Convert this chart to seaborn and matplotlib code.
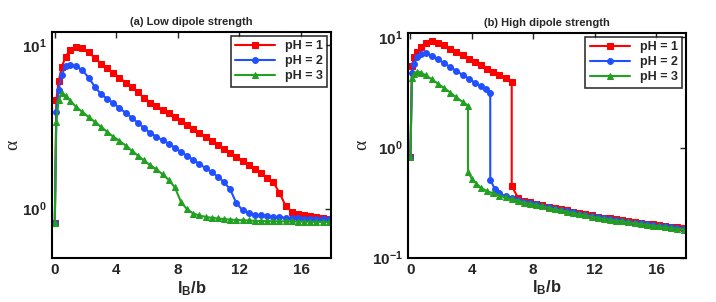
import matplotlib
matplotlib.use("Agg")
import matplotlib.pyplot as plt
import matplotlib.ticker as mticker
import seaborn as sns
import pandas as pd

# x grid used by the low dipole panel
GX = [0, 0.1, 0.25, 0.45, 0.7, 1.0, 1.4, 1.8, 2.2, 2.6, 3.0, 3.4, 3.8, 4.2, 4.6, 5.0,
      5.4, 5.8, 6.2, 6.6, 7.0, 7.4, 7.8, 8.2, 8.6, 9.0, 9.4, 9.8, 10.2, 10.6, 11.0, 11.4,
      11.8, 12.2, 12.6, 13.0, 13.4, 13.8, 14.2, 14.6, 15.0, 15.4, 15.8, 16.2, 16.6, 17.0,
      17.4, 17.8]

low_ph1 = [0.82, 4.6, 6.0, 7.3, 8.5, 9.3, 9.77, 9.55, 9.02, 8.32, 7.67, 7.19, 6.76, 6.31,
           5.89, 5.50, 5.13, 4.76, 4.45, 4.22, 4.01, 3.84, 3.63, 3.43, 3.24, 3.07, 2.90,
           2.75, 2.60, 2.45, 2.32, 2.19, 2.07, 1.96, 1.85, 1.75, 1.64, 1.54, 1.45, 1.25,
           1.04, 0.96, 0.93, 0.915, 0.90, 0.89, 0.875, 0.87]
low_ph2 = [0.82, 3.9, 5.3, 6.6, 7.4, 7.55, 7.41, 7.0, 6.31, 5.56, 5.01, 4.70, 4.42, 4.12,
           3.85, 3.59, 3.35, 3.11, 2.90, 2.75, 2.62, 2.50, 2.36, 2.22, 2.10, 1.99, 1.87,
           1.77, 1.67, 1.57, 1.45, 1.31, 1.08, 0.98, 0.945, 0.92, 0.91, 0.90, 0.893, 0.887,
           0.88, 0.877, 0.873, 0.87, 0.867, 0.865, 0.862, 0.86]
low_ph3 = [0.82, 3.4, 4.6, 5.1, 4.9, 4.57, 4.17, 3.89, 3.63, 3.39, 3.16, 2.95, 2.75, 2.60,
           2.43, 2.26, 2.11, 1.97, 1.84, 1.74, 1.62, 1.50, 1.35, 1.10, 0.99, 0.933, 0.908,
           0.891, 0.879, 0.871, 0.863, 0.857, 0.853, 0.849, 0.847, 0.843, 0.841, 0.839,
           0.837, 0.837, 0.835, 0.835, 0.833, 0.833, 0.831, 0.831, 0.830, 0.829]

# high dipole panel: each curve has its own x values (vertical jump = repeated x)
hx_ph1 = [0, 0.1, 0.25, 0.45, 0.7, 1.0, 1.4, 1.8, 2.2, 2.6, 3.0, 3.4, 3.8, 4.2, 4.6, 5.0,
          5.4, 5.8, 6.2, 6.6, 6.6, 7.0, 7.4, 7.8, 8.2, 8.6, 9.0, 9.4, 9.8, 10.2, 10.6, 11.0,
          11.4, 11.8, 12.2, 12.6, 13.0, 13.4, 13.8, 14.2, 14.6, 15.0, 15.4, 15.8, 16.2,
          16.6, 17.0, 17.4, 17.8]
high_ph1 = [0.82, 5.5, 6.6, 7.4, 8.2, 8.9, 9.2, 8.9, 8.5, 7.8, 7.36, 6.87, 6.41, 5.98, 5.58,
            5.21, 4.86, 4.54, 4.24, 3.98, 0.45, 0.35, 0.33, 0.318, 0.308, 0.299, 0.290,
            0.282, 0.275, 0.268, 0.260, 0.254, 0.248, 0.242, 0.236, 0.231, 0.227, 0.222,
            0.218, 0.214, 0.210, 0.207, 0.204, 0.200, 0.197, 0.194, 0.191, 0.188, 0.185]
hx_ph2 = [0, 0.1, 0.25, 0.45, 0.7, 1.0, 1.4, 1.8, 2.2, 2.6, 3.0, 3.4, 3.8, 4.2, 4.6, 4.9,
          5.2, 5.2, 5.5, 5.8, 6.2, 6.6, 7.0, 7.4, 7.8, 8.2, 8.6, 9.0, 9.4, 9.8, 10.2, 10.6,
          11.0, 11.4, 11.8, 12.2, 12.6, 13.0, 13.4, 13.8, 14.2, 14.6, 15.0, 15.4, 15.8,
          16.2, 16.6, 17.0, 17.4, 17.8]
high_ph2 = [0.82, 4.8, 5.8, 6.6, 7.1, 7.24, 6.84, 6.31, 5.82, 5.37, 4.95, 4.57, 4.22, 3.89,
            3.59, 3.37, 3.16, 0.51, 0.42, 0.385, 0.36, 0.345, 0.333, 0.322, 0.313, 0.304,
            0.295, 0.286, 0.278, 0.271, 0.264, 0.257, 0.251, 0.245, 0.239, 0.233, 0.228,
            0.224, 0.220, 0.216, 0.212, 0.208, 0.205, 0.202, 0.198, 0.195, 0.192, 0.189,
            0.186, 0.183]
hx_ph3 = [0, 0.1, 0.25, 0.45, 0.7, 1.0, 1.4, 1.8, 2.2, 2.6, 3.0, 3.4, 3.75, 3.75, 4.0, 4.3,
          4.6, 5.0, 5.4, 5.8, 6.2, 6.6, 7.0, 7.4, 7.8, 8.2, 8.6, 9.0, 9.4, 9.8, 10.2, 10.6,
          11.0, 11.4, 11.8, 12.2, 12.6, 13.0, 13.4, 13.8, 14.2, 14.6, 15.0, 15.4, 15.8,
          16.2, 16.6, 17.0, 17.4, 17.8]
high_ph3 = [0.82, 4.3, 4.7, 4.9, 4.79, 4.52, 4.17, 3.80, 3.47, 3.16, 2.85, 2.60, 2.40, 0.60,
            0.52, 0.47, 0.43, 0.40, 0.385, 0.365, 0.352, 0.34, 0.33, 0.316, 0.309, 0.301,
            0.292, 0.283, 0.275, 0.268, 0.261, 0.254, 0.248, 0.242, 0.236, 0.230, 0.225,
            0.221, 0.217, 0.213, 0.209, 0.205, 0.202, 0.199, 0.195, 0.192, 0.189, 0.186,
            0.183, 0.180]

labels = ["pH = 1", "pH = 2", "pH = 3"]
colors = ["#ff0000", "#2050ff", "#22a022"]
markers = ["s", "o", "^"]
xticks = [0, 4, 8, 12, 16]

sns.set_style("white")
plt.rcParams["font.family"] = ["Liberation Sans", "DejaVu Sans"]
plt.rcParams["font.weight"] = "bold"
plt.rcParams["mathtext.fontset"] = "custom"
plt.rcParams["mathtext.rm"] = "Liberation Sans:bold"
plt.rcParams["mathtext.bf"] = "Liberation Sans:bold"
plt.rcParams["mathtext.it"] = "Liberation Sans:bold"
plt.rcParams["mathtext.default"] = "bf"

fig = plt.figure(figsize=(7.16, 3.02), dpi=100)
ax1 = fig.add_axes([0.0733, 0.146, 0.389, 0.748])
ax2 = fig.add_axes([0.570, 0.147, 0.388, 0.744])

panels = [
    (ax1, [(GX, low_ph1), (GX, low_ph2), (GX, low_ph3)], "(a) Low dipole strength", (0.5, 12)),
    (ax2, [(hx_ph1, high_ph1), (hx_ph2, high_ph2), (hx_ph3, high_ph3)],
     "(b) High dipole strength", (0.1, 11)),
]

for ax, series, title, ylim in panels:
    for (xs, ys), lab, col, mk in zip(series, labels, colors, markers):
        df = pd.DataFrame({"x": xs, "y": ys})
        sns.lineplot(data=df, x="x", y="y", ax=ax, color=col, marker=mk, markersize=4.2,
                     markeredgecolor=col, linewidth=1.5, estimator=None, sort=False,
                     label=lab)
    ax.set_yscale("log")
    ax.set_xlim(-0.15, 17.95)
    ax.set_ylim(*ylim)
    ax.set_xticks(xticks)
    ax.yaxis.set_major_locator(mticker.LogLocator(base=10, numticks=10))
    ax.yaxis.set_major_formatter(mticker.LogFormatterMathtext())
    ax.yaxis.set_minor_locator(mticker.NullLocator())
    ax.tick_params(direction="in", length=4, width=1, top=True, right=True,
                   labelsize=11, pad=4)
    for sp in ax.spines.values():
        sp.set_visible(True)
        sp.set_color("black")
        sp.set_linewidth(1.5)
    ax.set_title(title, fontsize=8, fontweight="bold", pad=5)
    ax.set_xlabel(r"$l_B/b$", fontsize=12, labelpad=1)
    ax.set_ylabel("\u03b1", fontsize=14, family="Liberation Serif", fontweight="normal",
                  labelpad=1)
    leg = ax.legend(loc="upper right", fontsize=9, frameon=True, fancybox=False,
                    borderaxespad=0.3, handlelength=3.2, labelspacing=0.25,
                    borderpad=0.35)
    leg.get_frame().set_edgecolor("black")
    leg.get_frame().set_linewidth(1.2)
    for t in leg.get_texts():
        t.set_fontweight("bold")

fig.savefig("out.png", dpi=100)
plt.close(fig)
